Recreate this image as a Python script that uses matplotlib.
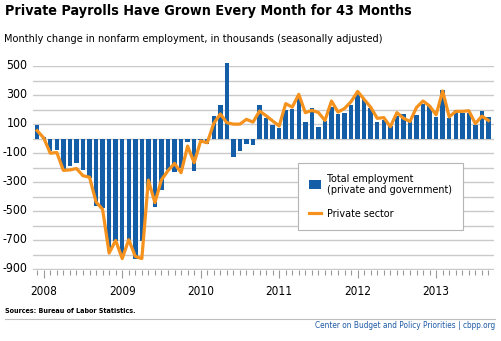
import os
import matplotlib
matplotlib.use("Agg")
import matplotlib.pyplot as plt
from matplotlib import font_manager
from matplotlib.font_manager import FontProperties
from matplotlib.lines import Line2D
from matplotlib.patches import Patch
from matplotlib.transforms import ScaledTranslation

# ---------------- data (Dec 2007 .. Sep 2013, thousands) ----------------
years = ["2008", "2009", "2010", "2011", "2012", "2013"]
total_employment = [94,
    14, -85, -78, -210, -188, -170, -218, -270, -463, -475, -775, -705,
    -800, -695, -830, -704, -352, -472, -350, -215, -230, -200, -21, -220,
    -12, -39, 156, 229, 520, -127, -85, -34, -41, 229, 144, 94,
    71, 199, 206, 290, 117, 211, 80, 125, 218, 172, 174, 229,
    305, 272, 210, 118, 126, 84, 157, 167, 125, 160, 236, 222,
    150, 332, 144, 197, 174, 174, 92, 190, 150]
private_sector = [55,
    5, -100, -95, -218, -215, -205, -255, -265, -435, -486, -787, -700,
    -825, -695, -810, -825, -285, -440, -283, -220, -170, -234, -51, -165,
    -16, -28, 105, 170, 110, 100, 100, 133, 114, 190, 158, 122,
    87, 241, 217, 305, 179, 195, 180, 125, 259, 183, 208, 255,
    325, 270, 216, 140, 145, 82, 179, 141, 118, 215, 259, 225,
    164, 328, 150, 188, 188, 192, 104, 155, 125]
y_ticks = [500, 300, 100, -100, -300, -500, -700, -900]

BLUE = "#135ea6"
ORANGE = "#f5921e"

# ---- font: a condensed face if installed, else a narrow-ish sans ----
files = {}
for f in font_manager.fontManager.ttflist:
    files[os.path.basename(f.fname).lower()] = f.fname
names = {f.name for f in font_manager.fontManager.ttflist}

def pick(cands):
    for c in cands:
        if c in files:
            return files[c]
    return None

reg_file = pick(["liberationsansnarrow-regular.ttf", "dejavusanscondensed.ttf",
                 "notosans-condensed.ttf", "robotocondensed-regular.ttf"])
bold_file = pick(["liberationsansnarrow-bold.ttf", "dejavusanscondensed-bold.ttf",
                  "notosans-condensedbold.ttf", "robotocondensed-bold.ttf"])
FAMILY = next((n for n in ["Roboto", "Liberation Sans", "DejaVu Sans"] if n in names),
              "DejaVu Sans")

def fp(bold=False, size=10):
    f = bold_file if bold else reg_file
    if f:
        return FontProperties(fname=f, size=size)
    return FontProperties(family=FAMILY, weight="bold" if bold else "normal", size=size)

W, H = 501, 341
fig = plt.figure(figsize=(W / 100, H / 100), dpi=100)
renderer = fig.canvas.get_renderer()

def px(x, y):
    return x / W, 1 - y / H

def size_for(s, width_px, bold=False):
    t = fig.text(0, 0, s, fontproperties=fp(bold, 10))
    w = t.get_window_extent(renderer).width
    t.remove()
    return 10 * width_px / w

# axes: x from 33 to 494 px, y from 66 (500) to 269.5 (-900)
left, right, top, bottom = 33, 494, 66, 269.5
ax = fig.add_axes([left / W, 1 - bottom / H, (right - left) / W, (bottom - top) / H])

n = len(total_employment)
idx = list(range(n))
ax.bar(idx, total_employment, width=0.68, color=BLUE, zorder=2, clip_on=False)
ax.plot(idx, private_sector, color=ORANGE, lw=2.3, zorder=3, clip_on=False)

ax.set_xlim(-0.64, 69.85)
ax.set_ylim(-900, 500)

ysize = size_for("-900", 25)
ax.set_yticks(y_ticks)
ax.set_yticks(list(range(-800, 500, 200)), minor=True)
ax.grid(axis="y", which="both", color="#c9c9c9", lw=1.0, zorder=0)
ax.tick_params(axis="y", which="both", length=0, pad=4)
ax.set_yticklabels([str(v) for v in y_ticks], fontproperties=fp(False, ysize))
for lab in ax.get_yticklabels():
    lab.set_transform(lab.get_transform() + ScaledTranslation(0, 1.5 / 72, fig.dpi_scale_trans))

xsize = size_for("2008", 27)
major_x = [1 + 12 * k for k in range(len(years))]
ax.set_xticks(major_x)
ax.set_xticks(idx, minor=True)
ax.set_xticklabels(years, fontproperties=fp(False, xsize))
ax.tick_params(axis="x", which="major", length=5.5, width=0.8, color="#999999", pad=6)
ax.tick_params(axis="x", which="minor", length=3.8, width=0.8, color="#999999")
for s in ax.spines.values():
    s.set_visible(False)

lsize = size_for("(private and government)", 126)
handles = [Patch(facecolor=BLUE, edgecolor="none"),
           Line2D([], [], color=ORANGE, lw=2.3)]
labels = ["Total employment\n(private and government)", "Private sector"]
leg = fig.legend(handles, labels, loc="upper left",
                 bbox_to_anchor=px(298, 163), frameon=True, fancybox=False,
                 edgecolor="#b5b5b5", framealpha=1, prop=fp(False, lsize),
                 handlelength=1.1, handleheight=0.9, handletextpad=0.6,
                 borderpad=1.0, labelspacing=1.25, borderaxespad=0)
leg.get_frame().set_linewidth(0.8)

title = "Private Payrolls Have Grown Every Month for 43 Months"
fig.text(*px(5, 4), title, fontproperties=fp(True, size_for(title, 405, True)),
         va="top", ha="left")
sub = "Monthly change in nonfarm employment, in thousands (seasonally adjusted)"
fig.text(*px(4, 34), sub, fontproperties=fp(False, size_for(sub, 378)),
         va="top", ha="left")
src = "Sources: Bureau of Labor Statistics."
fig.text(*px(5, 308), src, fontproperties=fp(True, size_for(src, 130, True)),
         va="top", ha="left")
fig.add_artist(Line2D([5 / W, 495 / W], [1 - 318.5 / H] * 2, color="#bdbdbd", lw=0.8))
org = "Center on Budget and Policy Priorities | cbpp.org"
fig.text(*px(495, 321), org, fontproperties=fp(False, size_for(org, 182)),
         color="#1f5aa6", va="top", ha="right")

fig.savefig("out.png", dpi=100)
